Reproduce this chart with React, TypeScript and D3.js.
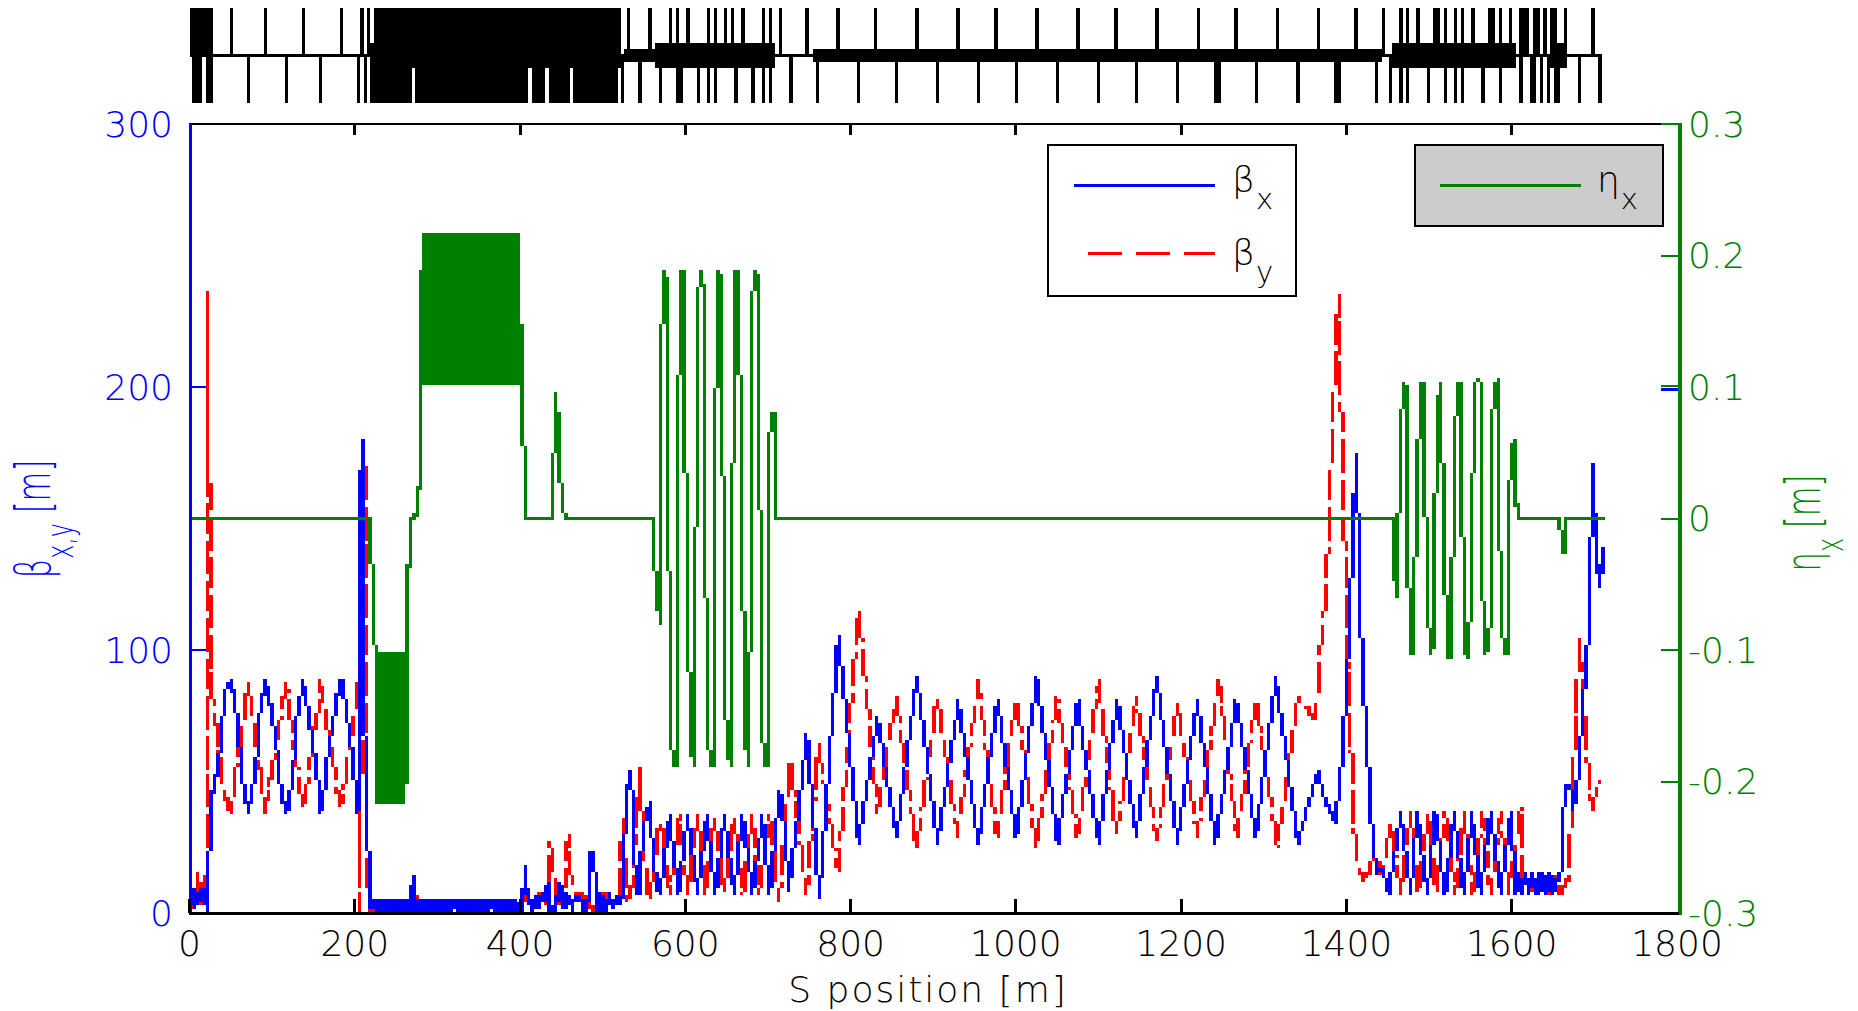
import React, { useRef, useEffect } from 'react';
import * as d3 from 'd3';

// [s, beta]
const betaX: number[][] = [
  [0, 8], [2, 4], [4, 9], [7, 2], [10, 8], [13, 5], [16, 9], [18, 3], [20, 6], [22, 1], [24, 21], [26, 42],
  [30, 49], [34, 54], [38, 65], [42, 79], [46, 87], [51, 88], [55, 81], [59, 72], [63, 54], [67, 45], [71, 38.5],
  [75, 44], [80, 53], [84, 72], [88, 81], [92, 88], [96, 82], [100, 75], [105, 66], [109, 52], [113, 44], [117.5, 38.5],
  [121.5, 44], [125.5, 54], [129.5, 72], [133.6, 81], [137.6, 88], [141.6, 81], [145.7, 72], [150.5, 62.6], [154.5, 53],
  [158, 38.5], [162.6, 44], [167, 59], [171, 66], [175, 74], [179, 82], [183.5, 88], [187.6, 81.6], [191.6, 73],
  [195.6, 64.5], [200, 50.6], [204, 38.5], [206, 107], [208.5, 180], [210, 110], [212.6, 60], [214, 32], [216, 25], [220, 2],
  [222.5, 5.2], [225, 0.8], [227.5, 5.3], [230, 0.7], [232.5, 5.2], [235, 0.9], [237.5, 5.3], [240, 0.8], [242.5, 5.2],
  [245, 0.7], [247.5, 5.3], [250, 0.9], [252.5, 5.2], [255, 0.8], [257.5, 5.3], [260, 0.7], [262.5, 5.2], [265, 0.9],
  [268, 5.3], [270.6, 13.6], [273, 1.2], [275.5, 5.2], [278, 0.8], [280.5, 5.3], [283, 0.7], [285.5, 5.2], [288, 0.9],
  [290.5, 5.3], [293, 0.8], [295.5, 5.2], [298, 0.7], [300.5, 5.3], [303, 0.9], [305.5, 5.2], [308, 0.8], [310.5, 5.3],
  [313, 0.7], [315.5, 5.2], [318, 0.9], [320.5, 5.3], [323, 0.8], [325.5, 5.2], [328, 0.7], [330.5, 5.3], [333, 0.9],
  [335.5, 5.2], [338, 0.8], [340.5, 5.3], [343, 0.7], [345.5, 5.2], [348, 0.9], [350.5, 5.3], [353, 0.8], [355.5, 5.2],
  [358, 0.7], [360.5, 5.3], [363, 0.9], [365.5, 5.2], [368, 0.8], [370.5, 5.3], [373, 0.7], [375.5, 5.2], [378, 0.9],
  [380.5, 5.3], [383, 0.8], [385.5, 5.2], [388, 0.7], [390.5, 5.3], [393, 0.9], [395.5, 5.2], [398, 0.8],
  [400, 3], [403, 1], [406, 17.6], [408, 8], [410, 8.5], [414, 1], [418, 6], [421, 2], [425, 7], [429, 5], [434, 11.3],
  [437, 1], [440, 2], [443, 0.5], [447, 11.3], [450, 2], [452, 9.4], [456, 2.4], [460, 6], [464, 1.2], [466, 6], [472, 6],
  [478, 1], [483, 6], [486, 22.7], [490, 17.6], [492, 1], [495, 7], [498, 1], [501, 6], [505, 1], [508, 7.5], [512, 2],
  [515, 6], [519, 3], [523, 6], [527, 30], [532, 53.8], [536, 45.5], [538, 26], [541, 9], [544.7, 7], [546, 15.7],
  [549, 30], [552, 36], [556.8, 41.5], [561, 24], [565, 12], [569.7, 7], [581, 37], [592, 7], [603, 37], [615, 7], [626, 37],
  [636.6, 7], [647.5, 37], [659.5, 7], [669.6, 37], [681.7, 7], [693.8, 37], [702, 7], [714, 45.5], [718, 40], [726, 9],
  [747.4, 68], [762.3, 5.6], [785.3, 105], [809.9, 27], [832.8, 74], [855.8, 29], [880.4, 89.6], [905.4, 27], [930.8, 80],
  [955, 27], [978, 81], [1000.9, 29], [1025.5, 89.6], [1050.4, 27], [1075, 80], [1100, 27], [1123, 81], [1146, 29],
  [1170.7, 89.6], [1195.7, 27], [1220, 80], [1242, 27], [1267, 81], [1291, 29], [1314.6, 89.6], [1341.6, 27], [1366, 53.5],
  [1376, 41], [1387, 34.4], [1395, 60], [1402.4, 100], [1412, 175], [1416, 130], [1419, 95], [1424.6, 67], [1428.6, 41.7],
  [1433, 24], [1437, 15.7], [1443.6, 17], [1451.5, 7.5], [1465.7, 38], [1478, 7], [1486, 38], [1498, 7], [1508, 38], [1520, 7],
  [1530, 38], [1542, 7], [1552, 38], [1562, 7], [1574.5, 38], [1586.6, 7], [1598.7, 38], [1606, 7], [1610, 15], [1613, 7],
  [1617, 15], [1620, 8], [1624, 15], [1628, 7], [1632, 15], [1635, 7], [1639, 15], [1643, 7], [1647, 15], [1650, 7], [1654, 13],
  [1659, 13], [1665, 49], [1671, 48.7], [1675, 40], [1681, 52], [1686, 77.8], [1690, 92], [1694, 110], [1698, 171],
  [1702, 136], [1706, 124], [1710, 139], [1711.5, 129],
];

const betaY: number[][] = [
  [0, 6], [4, 2], [8.6, 14.5], [12, 2], [17.5, 14.5], [20.5, 4], [21.5, 236], [24, 170], [26, 91], [30, 75], [34, 69.6],
  [38, 54.4], [42, 46.8], [46, 41.7], [51, 38.5], [55, 50.6], [59, 60.7], [63, 67], [67, 77], [71, 88], [75, 79.7],
  [79.6, 68], [84, 57], [88, 50.6], [92, 38.5], [96, 48], [100, 54.4], [108.6, 69.6], [113, 79.7], [117.5, 86.7],
  [121.5, 77], [125.5, 64.5], [129.5, 58], [133.6, 48], [137.6, 38.5], [142, 46.8], [146.5, 58], [150.5, 69.6], [154.5, 74.7],
  [158.5, 88], [162.6, 77.8], [166.6, 71], [175, 57.5], [179, 46.8], [183.5, 40.4], [187.6, 48], [191.6, 58], [195.6, 65.8],
  [200, 77], [204, 87], [207, 1.2], [209, 90], [212, 178], [214, 100], [216, 11], [218, 3], [220, 1], [266, 3], [268, 8],
  [270.6, 2.4], [273, 8], [275, 3], [400, 3], [411.6, 7.5], [419.7, 5.6], [427.8, 8], [431.8, 3.7], [436.6, 26.5], [440.7, 16.4],
  [444, 5], [452, 2.4], [458, 28.8], [462, 12.6], [466, 7.5], [472, 7.5], [480, 6], [486, 2.4], [490, 0.5], [502, 7.5], [508, 5],
  [520.5, 2.4], [523.7, 35.4], [530.5, 5], [536.6, 11.3], [544.6, 54.4], [548.7, 33], [552.7, 11.3], [556.7, 5], [560.8, 13.8],
  [564.8, 24.6], [568.8, 34.7], [572.8, 30.3], [578, 12.6], [581.7, 7.5], [593, 37], [603, 7], [615, 37], [625, 7], [635, 37],
  [647.5, 7], [659.5, 37], [669.6, 7], [681, 37], [690, 7], [702, 37], [714, 4.3], [727, 57.8], [747, 7.5], [761, 63.3], [785, 17],
  [810, 115.5], [833, 38.5], [855, 82], [880, 25], [905, 82], [929.5, 29.7], [955, 87.7], [977, 29], [1001, 81.4], [1025, 25],
  [1050, 82], [1075, 29], [1100, 87.7], [1122, 30], [1146, 81.4], [1171, 27.5], [1195.7, 80], [1220, 29.7], [1246, 87.7], [1268, 29],
  [1291, 82], [1316.6, 25], [1341.6, 82], [1351, 78.5], [1361, 73.8], [1366, 85.4], [1370, 106], [1375, 119], [1390, 235], [1397, 150],
  [1403, 81], [1407, 52.5], [1411, 22.7], [1415, 17.6], [1421, 13], [1428, 15], [1431.5, 21.6], [1439.5, 19], [1443.5, 13.8], [1453.6, 34],
  [1465.7, 7.5], [1478, 38], [1487, 7.5], [1499, 38], [1508, 7.5], [1520, 38], [1532, 7.5], [1542, 38], [1553, 7.5], [1565, 38],
  [1574.5, 7.5], [1586.6, 38], [1597, 7.5], [1611, 40], [1613, 10], [1620, 13], [1628, 7], [1636, 13], [1644, 8], [1652, 14], [1660, 7],
  [1669, 14], [1673, 38], [1678, 81], [1682, 105], [1685, 90], [1690, 68], [1694, 46.8], [1698, 40], [1705, 49], [1708, 50],
];

const etaX: number[][] = [
  [0, 0], [217, 0], [220.5, -0.036], [225, -0.105], [227, -0.217], [229, -0.103], [231, -0.217], [233, -0.103], [235, -0.217], [237, -0.103],
  [239, -0.217], [241, -0.103], [243, -0.217], [245, -0.103], [247, -0.217], [249, -0.103], [251, -0.217], [253, -0.103], [255, -0.217],
  [257, -0.103], [259, -0.217], [261, -0.103], [262.6, -0.2], [263.5, -0.036], [266.6, -0.036], [267, 0], [274.7, 0.002], [275.5, 0.022],
  [278.7, 0.022], [279.5, 0.188], [281, 0.104], [283, 0.217], [285, 0.104], [287, 0.217], [289, 0.104], [291, 0.217], [293, 0.104],
  [295, 0.217], [297, 0.104], [299, 0.217], [301, 0.104], [303, 0.217], [305, 0.104], [307, 0.217], [309, 0.104], [311, 0.217], [313, 0.104],
  [315, 0.217], [317, 0.104], [319, 0.217], [321, 0.104], [323, 0.217], [325, 0.104], [327, 0.217], [329, 0.104], [331, 0.217], [333, 0.104],
  [335, 0.217], [337, 0.104], [339, 0.217], [341, 0.104], [343, 0.217], [345, 0.104], [347, 0.217], [349, 0.104], [351, 0.217], [353, 0.104],
  [355, 0.217], [357, 0.104], [359, 0.217], [361, 0.104], [363, 0.217], [365, 0.104], [367, 0.217], [369, 0.104], [371, 0.217], [373, 0.104],
  [375, 0.217], [377, 0.104], [379, 0.217], [381, 0.104], [383, 0.217], [385, 0.104], [387, 0.217], [389, 0.104], [391, 0.217], [393, 0.104],
  [395, 0.217], [397, 0.104], [399, 0.217], [401, 0.104], [402, 0.083], [404, 0.083], [405, 0], [438, 0], [444, 0.094], [448, 0.056], [449, 0.03],
  [454, 0], [562, 0], [565, -0.065], [567, -0.065], [569.7, -0.079], [570, 0.1], [573.7, 0.188], [577.7, 0.176], [578, 0.087], [581.8, -0.141],
  [585, -0.187], [589.8, -0.188], [590, -0.003], [594, 0.188], [598.3, 0.186], [598.5, 0.139], [602.3, -0.055], [607, -0.176], [611.2, -0.188],
  [611.5, -0.1], [615.2, 0.167], [619.3, 0.188], [623.3, 0.171], [623.5, 0.016], [627.3, -0.166], [631.3, -0.187], [635.7, -0.188], [636, 0.057],
  [640.2, 0.188], [644.2, 0.18], [644.4, 0.1], [648.3, -0.141], [652.7, -0.18], [656.3, -0.188], [656.5, -0.018], [660.8, 0.188], [664.8, 0.186],
  [665, 0.158], [669.2, -0.055], [673.7, -0.138], [673.9, -0.173], [677.3, -0.188], [681, 0.167], [685.3, 0.188], [689.4, 0.174], [689.6, 0.052],
  [693.8, -0.166], [697.8, -0.187], [702.3, -0.188], [702.5, 0.063], [706, 0.08], [707, 0.08], [708, 0],
  [1456, 0], [1457, -0.045], [1460, -0.045], [1462, -0.06], [1462.2, -0.018], [1466, 0.074], [1469.8, 0.104], [1473.8, 0.091], [1474, -0.024],
  [1478, -0.103], [1482, -0.102], [1482.2, -0.062], [1486.7, 0.048], [1490.8, 0.104], [1494.8, 0.101], [1495, 0.022], [1499.2, -0.08], [1503.3, -0.103],
  [1507.3, -0.082], [1507.5, 0.005], [1511.3, 0.089], [1515.3, 0.104], [1515.5, 0.063], [1519.4, -0.044], [1524.2, -0.105], [1528.3, -0.097], [1528.5, -0.024],
  [1532.3, 0.074], [1536.3, 0.104], [1540.3, 0.091], [1540.5, -0.007], [1544.4, -0.102], [1548.8, -0.105], [1549, -0.062], [1553.2, 0.039], [1557.3, 0.106],
  [1561.3, 0.104], [1561.5, 0.022], [1565.3, -0.062], [1569.4, -0.103], [1573.8, -0.083], [1574, 0.001], [1577.8, 0.089], [1582.2, 0.106], [1582.4, 0.065],
  [1586.3, -0.038], [1590.7, -0.103], [1594.7, -0.102], [1595, -0.038], [1598.8, 0.046], [1602.8, 0.06], [1603, 0.011], [1606.8, 0.011], [1607.3, 0],
  [1659, 0], [1660, -0.025], [1664, -0.025], [1665, -0.019], [1666, 0], [1711.5, 0],
];

// lattice elements as [start, end] in s
const upperMagnets: number[][] = [
  [0, 28.4], [48.9, 52.6], [90, 93.7], [136, 139.6], [182, 185.6], [206, 211], [214.6, 218.2], [223, 521.6], [530, 533.7], [554.3, 559],
  [579.8, 583.4], [588.2, 591.9], [600.3, 605.2], [625.7, 629.3], [634.2, 637.8], [646.3, 649.9], [654.7, 658.4], [666.8, 671.7],
  [692.2, 695.8], [700.7, 704.3], [712.8, 716.4], [745.4, 750.2], [782.9, 787.7], [828.8, 832.4], [878.4, 883.2], [928, 932.8],
  [974, 978.8], [1023.5, 1028.3], [1073, 1077.9], [1119, 1123.8], [1168.7, 1173.5], [1219.4, 1223], [1264.2, 1269], [1315, 1318.6],
  [1364.5, 1368], [1409.2, 1414], [1443, 1446.7], [1463.7, 1468.5], [1472, 1475.7], [1484.2, 1489], [1504.8, 1513.2], [1518, 1521.7],
  [1530, 1533.8], [1538.6, 1542.2], [1550.7, 1555.5], [1571.3, 1579.7], [1584.6, 1588.2], [1596.6, 1600.3], [1608.7, 1620.8],
  [1625.6, 1634], [1637.7, 1642.6], [1646.2, 1654.7], [1663, 1666.8], [1695.8, 1700.6],
];
const lowerMagnets: number[][] = [
  [3, 15.1], [20, 28.4], [69.5, 73.1], [115.4, 119], [156.5, 160.2], [202.5, 206], [211, 214.6], [218.2, 269], [272.6, 409.2],
  [414, 429.8], [434.6, 460], [463.6, 518], [521.6, 525.3], [542.2, 547], [567.7, 571.3], [588.2, 596.7], [613.6, 617.2], [625.7, 629.3],
  [634.2, 637.8], [658.4, 663.2], [678.9, 683.8], [692.2, 695.8], [700.7, 704.3], [724.9, 729.7], [758.7, 762.3], [808.3, 811.9],
  [854.2, 857.8], [903.8, 907.4], [953.4, 957], [999.3, 1002.9], [1048.9, 1052.5], [1098.4, 1102], [1144.4, 1148], [1194, 1197.7],
  [1240, 1248.4], [1289.6, 1293.2], [1339, 1344], [1385, 1393.5], [1434.6, 1438.3], [1451.6, 1455.2], [1463.7, 1468.5], [1472, 1475.7],
  [1497.5, 1501], [1518, 1521.7], [1530, 1533.8], [1538.6, 1542.2], [1562.8, 1567.6], [1584.6, 1588.2], [1608.7, 1613.6], [1622, 1629.3],
  [1634, 1637.7], [1642.6, 1646.2], [1651, 1658.3], [1680, 1683.7], [1704.2, 1709],
];
const midBands: number[][] = [[525.3, 562.8], [753.9, 1442.7]];
const wideBands: number[][] = [[218.2, 521.6], [562.8, 708], [1455.2, 1605], [1646.2, 1667]];
const beamline = [0, 1709];

const sTicks = [0, 200, 400, 600, 800, 1000, 1200, 1400, 1600, 1800];
const betaTicks = [0, 100, 200, 300];
const etaTicks = [-0.3, -0.2, -0.1, 0, 0.1, 0.2, 0.3];

const BLUE = '#0000ff';
const RED = '#ff0000';
const GREEN = '#008000';
const FONT = '"DejaVu Sans", sans-serif';

// the reference is a blown-up low resolution bitmap, so the curves are laid on the same coarse grid
const CELL = 1858 / 550;

const pixelPath = (pts: number[][], dash?: number[]) => {
  const cols = new Map<number, Set<number>>();
  let run = 0;
  let prevCol = NaN;
  let prevRow = NaN;
  let skipRow = NaN;
  for (let i = 1; i < pts.length; i++) {
    const [x0, y0] = pts[i - 1];
    const [x1, y1] = pts[i];
    const len = Math.hypot(x1 - x0, y1 - y0);
    const steep = len > 20 && Math.abs(y1 - y0) > Math.abs(x1 - x0);
    const n = Math.max(1, Math.ceil(len * 2));
    for (let k = 0; k <= n; k++) {
      const t = k / n;
      const c = Math.floor((x0 + (x1 - x0) * t) / CELL);
      const r = Math.floor((y0 + (y1 - y0) * t) / CELL);
      // on long steep runs neighbouring columns only touch at the corner
      if (c !== prevCol && r === prevRow && steep) skipRow = r;
      if (r !== skipRow) skipRow = NaN;
      prevCol = c;
      prevRow = r;
      const on = !dash || (run + t * len) % (dash[0] + dash[1]) < dash[0];
      if (!on || r === skipRow) continue;
      if (!cols.has(c)) cols.set(c, new Set());
      cols.get(c)!.add(r);
    }
    run += len;
  }
  const p = d3.path();
  cols.forEach((rows, c) => {
    const sorted = Array.from(rows).sort((a, b) => a - b);
    const xa = Math.round(c * CELL);
    const xb = Math.round((c + 1) * CELL);
    let start = sorted[0];
    for (let i = 0; i < sorted.length; i++) {
      if (i === sorted.length - 1 || sorted[i + 1] !== sorted[i] + 1) {
        const ya = Math.round(start * CELL);
        const yb = Math.round((sorted[i] + 1) * CELL);
        p.rect(xa, ya, xb - xa, yb - ya);
        start = sorted[i + 1];
      }
    }
  });
  return p.toString();
};

const App = () => {
  const svgRef = useRef<SVGSVGElement>(null);

  useEffect(() => {
    const svg = d3.select(svgRef.current);
    svg.selectAll('*').remove();

    const left = 190, right = 1680, top = 124, bottom = 913;
    const x = d3.scaleLinear().domain([0, 1800]).range([189.5, 1677]);
    const yBeta = d3.scaleLinear().domain([0, 300]).range([bottom, top]);
    const yEta = d3.scaleLinear().domain([-0.3, 0.3]).range([bottom, top]);

    // lattice strip on top
    const strip = svg.append('g').attr('shape-rendering', 'crispEdges').attr('fill', '#000');
    const bars = (rows: number[][], y0: number, y1: number) => {
      strip.append('g').selectAll('rect').data(rows).enter().append('rect')
        .attr('x', d => Math.round(x(d[0])))
        .attr('width', d => Math.max(Math.round(x(d[1]) - x(d[0])), 3))
        .attr('y', y0)
        .attr('height', y1 - y0);
    };
    bars(upperMagnets, 8, 56);
    bars(lowerMagnets, 55, 103);
    bars(midBands, 49, 62);
    bars(wideBands, 43, 68);
    bars([beamline], 54, 57);

    // curves
    const onBeta = (rows: number[][]) => rows.map(d => [x(d[0]), yBeta(d[1])]);
    const onEta = (rows: number[][]) => rows.map(d => [x(d[0]), yEta(d[1])]);
    const curves = svg.append('g').attr('shape-rendering', 'crispEdges');
    curves.append('path').attr('d', pixelPath(onBeta(betaY), [30, 9])).attr('fill', RED);
    curves.append('path').attr('d', pixelPath(onBeta(betaX))).attr('fill', BLUE);
    curves.append('path').attr('d', pixelPath(onEta(etaX))).attr('fill', GREEN);

    // frame
    const frame = svg.append('g').attr('shape-rendering', 'crispEdges');
    frame.append('line').attr('x1', left - 1).attr('x2', right).attr('y1', top).attr('y2', top).attr('stroke', '#000').attr('stroke-width', 2.5);
    frame.append('line').attr('x1', left).attr('x2', left).attr('y1', top).attr('y2', bottom).attr('stroke', BLUE).attr('stroke-width', 3);
    frame.append('line').attr('x1', right).attr('x2', right).attr('y1', top - 1).attr('y2', bottom + 2).attr('stroke', GREEN).attr('stroke-width', 4);
    frame.append('line').attr('x1', left - 1).attr('x2', right - 1).attr('y1', bottom).attr('y2', bottom).attr('stroke', '#000').attr('stroke-width', 3);

    // x ticks + labels
    sTicks.forEach(t => {
      const px = x(t);
      if (t < 1800) {
        frame.append('line').attr('x1', px).attr('x2', px).attr('y1', bottom).attr('y2', bottom - 14).attr('stroke', '#000').attr('stroke-width', 3);
      }
      if (t > 0 && t < 1800) {
        frame.append('line').attr('x1', px).attr('x2', px).attr('y1', top).attr('y2', top + 11).attr('stroke', '#000').attr('stroke-width', 3);
      }
      svg.append('text').attr('x', px).attr('y', 956).attr('text-anchor', 'middle')
        .attr('font-family', FONT).attr('font-weight', 200).attr('font-size', 36).attr('fill', '#000').text(t);
    });

    // beta ticks
    betaTicks.forEach(t => {
      const py = yBeta(t);
      if (t > 0 && t < 300) {
        frame.append('line').attr('x1', left).attr('x2', left + 16).attr('y1', py).attr('y2', py).attr('stroke', BLUE).attr('stroke-width', 2.5);
      }
      if (t === 200) {
        frame.append('line').attr('x1', right - 2).attr('x2', right - 19).attr('y1', py + 2).attr('y2', py + 2).attr('stroke', BLUE).attr('stroke-width', 3);
      }
      svg.append('text').attr('x', 173).attr('y', py).attr('dy', '0.36em').attr('text-anchor', 'end')
        .attr('font-family', FONT).attr('font-weight', 200).attr('font-size', 36).attr('fill', BLUE).text(t);
    });

    // eta ticks
    etaTicks.forEach(t => {
      const py = yEta(t);
      if (t > -0.3) {
        frame.append('line').attr('x1', right - 2).attr('x2', right - 19).attr('y1', py - (t === 0.1 ? 1 : 0)).attr('y2', py - (t === 0.1 ? 1 : 0))
          .attr('stroke', GREEN).attr('stroke-width', 2);
      }
      svg.append('text').attr('x', 1688).attr('y', py).attr('dy', '0.36em').attr('text-anchor', 'start')
        .attr('font-family', FONT).attr('font-weight', 200).attr('font-size', 36).attr('fill', GREEN).text(t === 0 ? '0' : String(t));
    });

    // axis titles
    svg.append('text').attr('x', 928).attr('y', 1002).attr('text-anchor', 'middle')
      .attr('font-family', FONT).attr('font-weight', 200).attr('font-size', 36).attr('letter-spacing', 2).attr('fill', '#000').text('S position [m]');

    const yTitle = svg.append('text').attr('transform', 'translate(50,519) rotate(-90) scale(0.85,1.35)').attr('text-anchor', 'middle')
      .attr('font-family', FONT).attr('font-weight', 200).attr('font-size', 36).attr('fill', BLUE);
    yTitle.append('tspan').text('β');
    yTitle.append('tspan').attr('font-size', 28).attr('dy', 17).text('x,y');
    yTitle.append('tspan').attr('dy', -17).text(' [m]');

    const etaTitle = svg.append('text').attr('transform', 'translate(1820,523) rotate(-90) scale(0.85,1.35)').attr('text-anchor', 'middle')
      .attr('font-family', FONT).attr('font-weight', 200).attr('font-size', 36).attr('fill', GREEN);
    etaTitle.append('tspan').text('η');
    etaTitle.append('tspan').attr('font-size', 28).attr('dy', 17).text('x');
    etaTitle.append('tspan').attr('dy', -17).text(' [m]');

    // legends
    const legendLabel = (g: any, lx: number, ly: number, sym: string, sub: string) => {
      const t = g.append('text').attr('x', lx).attr('y', ly).attr('font-family', FONT).attr('font-weight', 200).attr('font-size', 36).attr('fill', '#000');
      t.append('tspan').text(sym);
      t.append('tspan').attr('font-size', 29).attr('dy', 17).attr('dx', 1).text(sub);
    };
    const legendA = svg.append('g');
    legendA.append('rect').attr('x', 1048).attr('y', 145).attr('width', 248).attr('height', 151)
      .attr('fill', '#fff').attr('stroke', '#000').attr('stroke-width', 2.5).attr('shape-rendering', 'crispEdges');
    legendA.append('line').attr('x1', 1074).attr('x2', 1215).attr('y1', 185).attr('y2', 185).attr('stroke', BLUE).attr('stroke-width', 3).attr('shape-rendering', 'crispEdges');
    legendA.append('line').attr('x1', 1088).attr('x2', 1215).attr('y1', 253).attr('y2', 253).attr('stroke', RED).attr('stroke-width', 3)
      .attr('stroke-dasharray', '34 14').attr('shape-rendering', 'crispEdges');
    legendLabel(legendA, 1232, 192, 'β', 'x');
    legendLabel(legendA, 1232, 265, 'β', 'y');

    const legendB = svg.append('g');
    legendB.append('rect').attr('x', 1415).attr('y', 145).attr('width', 248).attr('height', 81)
      .attr('fill', '#cccccc').attr('stroke', '#000').attr('stroke-width', 2.5).attr('shape-rendering', 'crispEdges');
    legendB.append('line').attr('x1', 1440).attr('x2', 1581).attr('y1', 185).attr('y2', 185).attr('stroke', GREEN).attr('stroke-width', 3).attr('shape-rendering', 'crispEdges');
    legendLabel(legendB, 1597, 192, 'η', 'x');
  }, []);

  return (
    <svg ref={svgRef} width={1858} height={1011}
      style={{ position: 'absolute', left: 0, top: 0, background: '#ffffff' }} />
  );
};

export default App;
